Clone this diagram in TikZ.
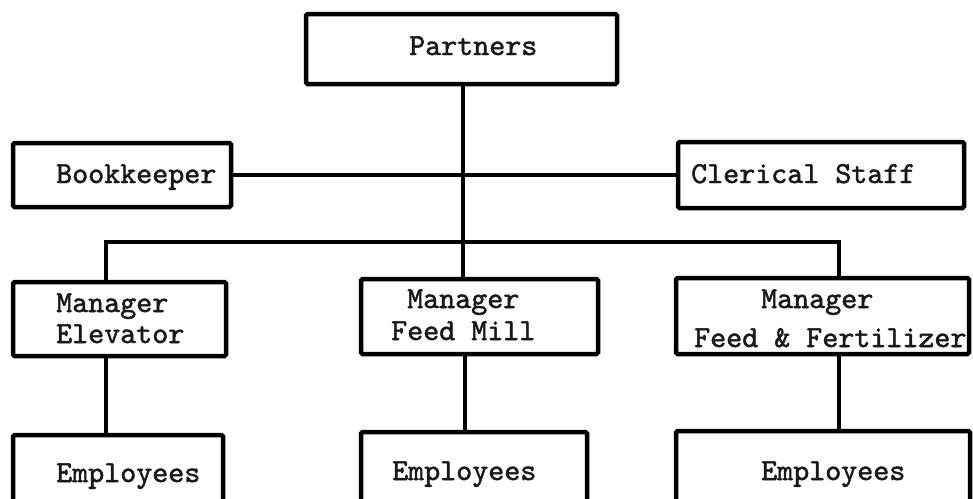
\documentclass[tikz,border=0pt]{standalone}
\usepackage{fontspec}
% typewriter face, thickened a little
\newfontfamily\typer{lmmono10-regular.otf}[FakeBold=1.6]
\begin{document}
\begin{tikzpicture}[x=1pt,y=-1pt,
  box/.style={draw=black, line width=4.5pt, rounded corners=1.5pt, fill=none,
              inner sep=0pt},
  link/.style={draw=black, line width=4pt},
  lbl/.style={inner sep=0pt, anchor=base west, text=black!90,
              font=\typer\fontsize{30.5}{36}\selectfont}]
  \useasboundingbox (0,0) rectangle (973,498);

  % boxes
  \node[box, minimum width=311pt, minimum height=70pt] (partners) at (461.5,49) {};
  \node[box, minimum width=218pt, minimum height=64pt] (bookkeeper) at (122,175) {};
  \node[box, minimum width=286pt, minimum height=66pt] (clerical) at (821,175) {};
  \node[box, minimum width=213pt, minimum height=74pt] (elev) at (119.5,319) {};
  \node[box, minimum width=237pt, minimum height=75pt] (mill) at (479.5,316.5) {};
  \node[box, minimum width=293pt, minimum height=76pt] (ff) at (822.5,316) {};
  \node[box, minimum width=210pt, minimum height=90pt] (empA) at (118,480) {};
  \node[box, minimum width=226pt, minimum height=90pt] (empB) at (474,477) {};
  \node[box, minimum width=294pt, minimum height=90pt] (empC) at (823,476) {};

  % labels
  \node[lbl] (partnersT) at (409,55) {Partners};
  \node[lbl] (bookkeeperT) at (56,183) {Bookkeeper};
  \node[lbl] (clericalT) at (691,183) {Clerical Staff};
  \node[lbl] (elevT1) at (56,312) {Manager};
  \node[lbl] (elevT2) at (56,343) {Elevator};
  \node[lbl] (millT1) at (407,308) {Manager};
  \node[lbl] (millT2) at (391,340) {Feed Mill};
  \node[lbl] (ffT1) at (761,308) {Manager};
  \node[lbl] (ffT2) at (694,347) {Feed \& Fertilizer};
  \node[lbl] (empAT) at (56,482) {Employees};
  \node[lbl] (empBT) at (392,480) {Employees};
  \node[lbl] (empCT) at (761,480) {Employees};

  % connector anchors
  \coordinate (stem) at (463,0);
  \coordinate (busL) at (106,242);
  \coordinate (busR) at (839,242);
  \coordinate (dropB) at (465,0);

  % staff line
  \draw[link] (bookkeeper.east) -- (bookkeeper.east -| clerical.west);
  % trunk from partners down to the feed mill manager
  \draw[link] (stem |- partners.south) -- (stem |- mill.north);
  % managers' bus
  \draw[link] (busL |- elev.north) -- (busL) -- (busR) -- (busR |- ff.north);
  % managers to employees
  \draw[link] (busL |- elev.south) -- (busL |- empA.north);
  \draw[link] (dropB |- mill.south) -- (dropB |- empB.north);
  \draw[link] (busR |- ff.south) -- (busR |- empC.north);
\end{tikzpicture}
\end{document}
